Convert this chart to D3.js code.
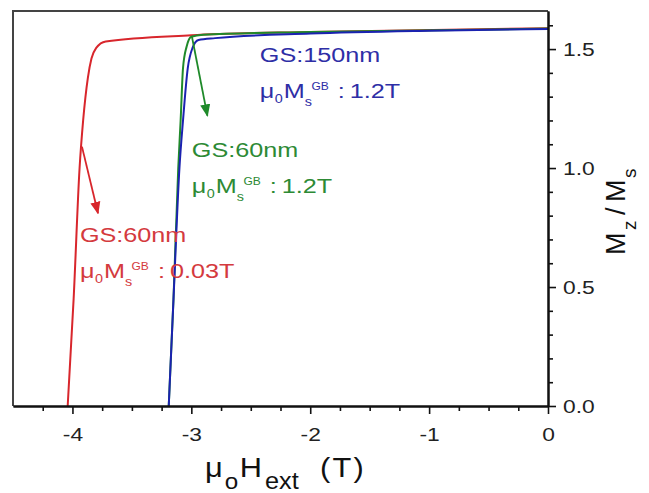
<!DOCTYPE html>
<html lang="en">
  <head>
    <meta charset="utf-8">
    <script src="https://cdn.jsdelivr.net/npm/d3@7/dist/d3.min.js"></script>
    <style>
      body { margin: 0; background: #fff; }
      text { font-family: "Liberation Sans", Arial, sans-serif; }
    </style>
  </head>
  <body>
    <svg class="chart"></svg>
  </body>
  <script>
    // values: [field in T, Mz/Ms]
    var redCurve = [[-4.04, 0], [-3.99, 0.45], [-3.94, 1.0], [-3.91, 1.2], [-3.87, 1.38],
                    [-3.84, 1.46], [-3.80, 1.505], [-3.72, 1.532], [-3.0, 1.558], [-2, 1.572], [0, 1.588]];
    var greenCurve = [[-3.19, 0], [-3.15, 0.45], [-3.11, 1.0], [-3.09, 1.2], [-3.07, 1.42],
                      [-3.04, 1.51], [-3.0, 1.552], [-2.9, 1.56], [-2, 1.572], [0, 1.586]];
    var blueCurve = [[-3.19, 0], [-3.15, 0.45], [-3.10, 1.0], [-3.07, 1.2], [-3.03, 1.42],
                     [-2.99, 1.505], [-2.94, 1.538], [-2.8, 1.546], [-2, 1.565], [-1, 1.577], [0, 1.584]];

    var xMajor = [-4, -3, -2, -1, 0];
    var xMinor = [-4.25, -3.75, -3.5, -3.25, -2.75, -2.5, -2.25, -1.75, -1.5, -1.25, -0.75, -0.5, -0.25];
    var yMajor = [0, 0.5, 1.0, 1.5];
    var yMinor = [0.1, 0.2, 0.3, 0.4, 0.6, 0.7, 0.8, 0.9, 1.1, 1.2, 1.3, 1.4, 1.6];

    var series = [
      {name: 'red', color: '#d8262c', data: redCurve},
      {name: 'green', color: '#1f8a2a', data: greenCurve},
      {name: 'blue', color: '#1b22b0', data: blueCurve}
    ];

    var svg = d3.select('.chart').attr('width', 649).attr('height', 493);

    var margins = {top: 11, left: 13, right: 101, bottom: 87};
    var width = 649 - margins.left - margins.right;
    var height = 493 - margins.top - margins.bottom;

    var xScale = d3.scaleLinear().domain([-4.5, 0]).range([0, width]);
    var yScale = d3.scaleLinear().domain([0, 1.66]).range([height, 0]);

    var plot = svg.append('g')
                  .attr('transform', 'translate(' + margins.left + ',' + margins.top + ')');

    // frame top + left
    plot.append('path')
        .attr('d', 'M0,' + height + 'V0H' + width)
        .attr('fill', 'none')
        .attr('stroke', '#444')
        .attr('stroke-width', 2);

    var line = d3.line()
                 .x(function(d){ return xScale(d[0]); })
                 .y(function(d){ return yScale(d[1]); })
                 .curve(d3.curveMonotoneX);

    plot.selectAll('path.curve')
        .data(series)
        .enter()
        .append('path')
        .classed('curve', true)
        .attr('d', function(d){ return line(d.data); })
        .attr('fill', 'none')
        .attr('stroke', function(d){ return d.color; })
        .attr('stroke-width', 2);

    // axes (the whole picture is a bit stretched sideways, so text gets scale(1.2,1))
    var styleAxis = function(g){
      g.select('.domain').attr('stroke', '#111').attr('stroke-width', 2);
      g.selectAll('.tick line').attr('stroke', '#111').attr('stroke-width', 1.6);
      g.selectAll('text').attr('fill', '#222').style('font-size', '19px')
       .attr('transform', 'scale(1.2,1)')
       .style('font-family', '"Liberation Sans", Arial, sans-serif');
    };

    plot.append('g')
        .attr('transform', 'translate(0,' + height + ')')
        .call(d3.axisBottom(xScale).tickValues(xMinor).tickSize(5).tickFormat('').tickSizeOuter(0))
        .call(styleAxis);
    plot.append('g')
        .attr('transform', 'translate(0,' + height + ')')
        .call(d3.axisBottom(xScale).tickValues(xMajor).tickSize(8).tickPadding(13.5).tickSizeOuter(0)
               .tickFormat(function(d){ return d === 0 ? '0' : '-' + Math.abs(d); }))
        .call(styleAxis);

    plot.append('g')
        .attr('transform', 'translate(' + width + ',0)')
        .call(d3.axisRight(yScale).tickValues(yMinor).tickSize(5).tickFormat('').tickSizeOuter(0))
        .call(styleAxis);
    plot.append('g')
        .attr('transform', 'translate(' + width + ',0)')
        .call(d3.axisRight(yScale).tickValues(yMajor).tickSize(8).tickPadding(4.5).tickSizeOuter(0)
               .tickFormat(d3.format('.1f')))
        .call(styleAxis);

    // arrows
    var defs = svg.append('defs');
    series.forEach(function(s){
      defs.append('marker')
          .attr('id', 'head-' + s.name)
          .attr('viewBox', '0 0 10 10')
          .attr('refX', 9).attr('refY', 5)
          .attr('markerWidth', 7).attr('markerHeight', 7)
          .attr('orient', 'auto')
          .append('path')
          .attr('d', 'M0,1L10,5L0,9Z')
          .attr('fill', s.color);
    });

    var arrows = [
      {name: 'green', color: '#1f8a2a', from: [-2.996, 1.555], to: [-2.865, 1.22]},
      {name: 'red', color: '#d8262c', from: [-3.92, 1.09], to: [-3.785, 0.81]}
    ];
    plot.selectAll('line.arrow')
        .data(arrows)
        .enter()
        .append('line')
        .classed('arrow', true)
        .attr('x1', function(d){ return xScale(d.from[0]); })
        .attr('y1', function(d){ return yScale(d.from[1]); })
        .attr('x2', function(d){ return xScale(d.to[0]); })
        .attr('y2', function(d){ return yScale(d.to[1]); })
        .attr('stroke', function(d){ return d.color; })
        .attr('stroke-width', 1.8)
        .attr('marker-end', function(d){ return 'url(#head-' + d.name + ')'; });

    // annotations
    var notes = [
      {x: -2.424, y: 1.446, color: '#2e2ea6', gs: 'GS:150nm', ms: '1.2T'},
      {x: -2.996, y: 1.048, color: '#2d8a35', gs: 'GS:60nm', ms: '1.2T'},
      {x: -3.937, y: 0.691, color: '#d43a3e', gs: 'GS:60nm', ms: '0.03T'}
    ];
    var note = plot.selectAll('g.note')
                   .data(notes)
                   .enter()
                   .append('g')
                   .classed('note', true)
                   .attr('transform', function(d){
                     return 'translate(' + xScale(d.x) + ',' + yScale(d.y) + ') scale(1.2,1)';
                   })
                   .attr('fill', function(d){ return d.color; });
    note.append('text').style('font-size', '21px').text(function(d){ return d.gs; });
    var l2 = note.append('text').attr('y', 36).style('font-size', '21px');
    l2.append('tspan').attr('x', 0).text('\u03bc');
    l2.append('tspan').attr('x', 12.5).attr('dy', 5).style('font-size', '12px').text('0');
    l2.append('tspan').attr('x', 20).attr('dy', -5).text('M');
    l2.append('tspan').attr('x', 37.5).attr('dy', 8).style('font-size', '12px').text('s');
    l2.append('tspan').attr('x', 43).attr('dy', -16).style('font-size', '10px').text('GB');
    l2.append('tspan').attr('x', 65).attr('dy', 8).text(':');
    l2.append('tspan').attr('x', 75).text(function(d){ return d.ms; });

    // axis titles
    var xt = svg.append('text')
                .attr('transform', 'translate(205,477) scale(1.1,1)')
                .attr('fill', '#111')
                .style('font-size', '28px');
    xt.append('tspan').attr('x', 0).text('\u03bc');
    xt.append('tspan').attr('x', 18).attr('dy', 12).style('font-size', '22px').text('o');
    xt.append('tspan').attr('x', 31.5).attr('dy', -12).text('H');
    xt.append('tspan').attr('x', 54.5).attr('dy', 12).style('font-size', '23px').text('ext');
    xt.append('tspan').attr('x', 104.5).attr('dy', -12).style('letter-spacing', '2px').text('(T)');

    var yt = svg.append('text')
                .attr('transform', 'translate(625,255) rotate(-90)')
                .attr('fill', '#111')
                .style('font-size', '27px');
    yt.append('tspan').attr('x', 0).text('M');
    yt.append('tspan').attr('x', 25).attr('dy', 11).style('font-size', '19px').text('z');
    yt.append('tspan').attr('x', 40).attr('dy', -11).text('/');
    yt.append('tspan').attr('x', 53).text('M');
    yt.append('tspan').attr('x', 77).attr('dy', 11).style('font-size', '19px').text('s');
  </script>
</html>
